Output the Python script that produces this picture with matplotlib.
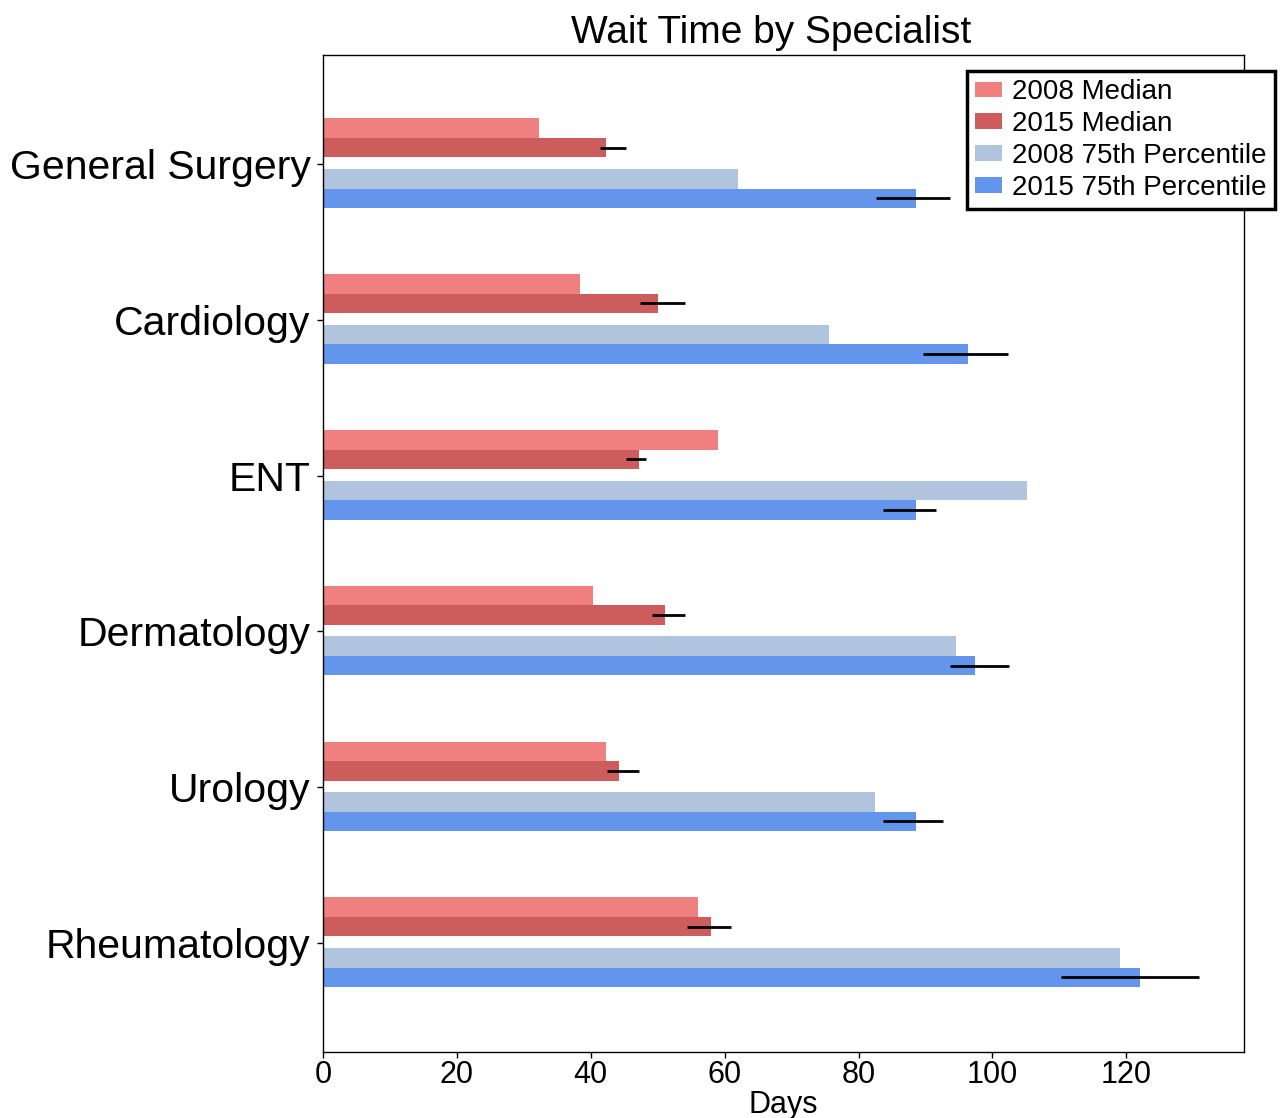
import matplotlib
matplotlib.use("Agg")
import matplotlib.pyplot as plt
import numpy as np

plt.rcParams['font.family'] = ['Liberation Sans', 'DejaVu Sans']

categories = ['General Surgery', 'Cardiology', 'ENT', 'Dermatology', 'Urology', 'Rheumatology']
med_2008 = [32.3, 38.4, 59.0, 40.4, 42.3, 56.0]
med_2015 = [42.3, 50.1, 47.2, 51.1, 44.2, 58.0]
p75_2008 = [62.0, 75.6, 105.2, 94.5, 82.5, 119.0]
p75_2015 = [88.6, 96.4, 88.6, 97.4, 88.6, 122.0]
med_2015_low = [41.4, 47.3, 45.3, 49.2, 42.4, 54.3]
med_2015_high = [45.2, 54.1, 48.3, 54.1, 47.2, 60.9]
p75_2015_low = [82.6, 89.7, 83.6, 93.6, 83.6, 110.3]
p75_2015_high = [93.6, 102.3, 91.6, 102.4, 92.6, 130.8]
xticks = [0, 20, 40, 60, 80, 100, 120]

fig = plt.figure(figsize=(12.85, 11.18), dpi=100)
ax = fig.add_axes([0.2514, 0.059, 0.7168, 0.8918])

y = np.arange(len(categories))
h = 0.125
m15 = np.array(med_2015)
p15 = np.array(p75_2015)
med_err = [m15 - np.array(med_2015_low), np.array(med_2015_high) - m15]
p75_err = [p15 - np.array(p75_2015_low), np.array(p75_2015_high) - p15]

ax.barh(y - 0.23, med_2008, height=h, color='lightcoral', label='2008 Median')
ax.barh(y - 0.105, med_2015, height=h, color='indianred', label='2015 Median')
ax.barh(y + 0.095, p75_2008, height=h, color='lightsteelblue', label='2008 75th Percentile')
ax.barh(y + 0.22, p75_2015, height=h, color='cornflowerblue', label='2015 75th Percentile')
ax.errorbar(med_2015, y - 0.105, xerr=med_err, fmt='none', ecolor='black', elinewidth=2, capsize=0)
ax.errorbar(p75_2015, y + 0.22, xerr=p75_err, fmt='none', ecolor='black', elinewidth=2, capsize=0)

ax.set_yticks(y)
ax.set_yticklabels(categories, fontsize=29.5)
ax.set_ylim(5.7, -0.7)
ax.set_xticks(xticks)
ax.set_xticklabels([str(t) for t in xticks], fontsize=22)
ax.set_xlim(0, 137.6)
ax.set_xlabel('Days', fontsize=22, labelpad=0)
ax.set_title('Wait Time by Specialist', fontsize=28, pad=9, x=0.487)
ax.tick_params(axis='both', length=4, width=1)
ax.tick_params(axis='y', pad=5)
ax.tick_params(axis='x', pad=2)
for s in ax.spines.values():
    s.set_linewidth(1)
    s.set_color('black')

leg = ax.legend(loc='upper right', bbox_to_anchor=(1.0336, 0.984), fontsize=20,
                frameon=True, fancybox=False, framealpha=1, edgecolor='black',
                handlelength=0.97, handleheight=0.5, handletextpad=0.36,
                labelspacing=0.21, borderpad=0.3, borderaxespad=0)
leg.get_frame().set_linewidth(2.5)

fig.savefig('out.png', dpi=100)
